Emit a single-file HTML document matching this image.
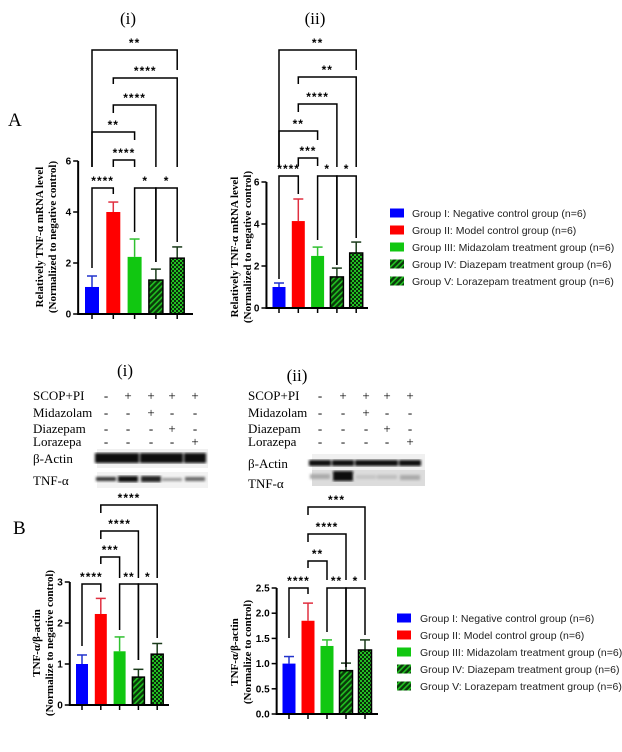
<!DOCTYPE html>
<html><head><meta charset="utf-8">
<style>
html,body{margin:0;padding:0;background:#fff;}
body{width:622px;height:752px;position:relative;overflow:hidden;}
svg{position:absolute;left:0;top:0;}
.tm{font-family:"Liberation Serif",serif;}
.ar{font-family:"Liberation Sans",sans-serif;}
</style></head>
<body>
<svg id="fig" width="622" height="752" viewBox="0 0 622 752" xmlns="http://www.w3.org/2000/svg">
<defs>
<pattern id="hatch" patternUnits="userSpaceOnUse" width="4" height="4" patternTransform="rotate(45)">
<rect width="4" height="4" fill="#0a3a0a"/><rect width="1.6" height="4" fill="#22c022"/>
</pattern>
<pattern id="check" patternUnits="userSpaceOnUse" width="4" height="4">
<rect width="4" height="4" fill="#0a2a0a"/><rect width="2" height="2" fill="#22c022"/><rect x="2" y="2" width="2" height="2" fill="#22c022"/>
</pattern>
<filter id="blur1"><feGaussianBlur stdDeviation="1.3"/></filter>
</defs>

<text class="tm" x="128" y="24" font-size="17" text-anchor="middle">(i)</text>
<text class="tm" x="315" y="24" font-size="17" text-anchor="middle">(ii)</text>
<text class="tm" x="8" y="126" font-size="19">A</text>
<text class="tm" x="13" y="534" font-size="19">B</text>
<text class="tm" x="125" y="376" font-size="17" text-anchor="middle">(i)</text>
<text class="tm" x="297" y="381" font-size="17" text-anchor="middle">(ii)</text>

<g id="blots"></g>
<g id="charts"></g>
</svg>

<script>
const categories = ["Group I", "Group II", "Group III", "Group IV", "Group V"];
const legendLabels = ["Group I: Negative control group (n=6)", "Group II: Model control group (n=6)", "Group III: Midazolam treatment group (n=6)", "Group IV: Diazepam treatment group (n=6)", "Group V: Lorazepam treatment group (n=6)"];

const aiValues = [1.06, 4.0, 2.24, 1.33, 2.19];
const aiErrors = [0.43, 0.39, 0.70, 0.43, 0.44];
const aiTicks = [0, 2, 4, 6];

const aiiValues = [1.0, 4.14, 2.48, 1.48, 2.62];
const aiiErrors = [0.19, 1.05, 0.42, 0.42, 0.52];
const aiiTicks = [0, 2, 4, 6];

const biValues = [1.0, 2.22, 1.31, 0.68, 1.24];
const biErrors = [0.22, 0.38, 0.35, 0.19, 0.26];
const biTicks = [0, 1, 2, 3];
const biTickLabels = ["0", "1", "2", "3"];

const biiValues = [1.0, 1.85, 1.35, 0.86, 1.27];
const biiErrors = [0.14, 0.35, 0.12, 0.15, 0.20];
const biiTicks = [0, 0.5, 1.0, 1.5, 2.0, 2.5];
const biiTickLabels = ["0.0", "0.5", "1.0", "1.5", "2.0", "2.5"];

const NS = "http://www.w3.org/2000/svg";
const fills = ["#0000ff", "#ff0000", "#11c711", "url(#hatch)", "url(#check)"];
const errCols = ["#2233cc", "#e03040", "#30c030", "#1a3a1a", "#1a3a1a"];
const legendFills = ["#0000ff", "#ff0000", "#11c711", "url(#hatch)", "url(#hatch)"];

function mk(parent, tag, attrs) {
  const e = document.createElementNS(NS, tag);
  for (const k in attrs) e.setAttribute(k, attrs[k]);
  parent.appendChild(e);
  return e;
}

function drawChart(cfg) {
  const root = document.getElementById("charts");
  const g = mk(root, "g", {});
  
  
  const yScale = v => cfg.y0 - (v - cfg.yMin) / (cfg.yMax - cfg.yMin) * (cfg.y0 - cfg.yTop);
  const xScale = i => cfg.x0 + i * cfg.step;
  cfg.values.forEach((v, i) => {
    const cx = xScale(i), top = yScale(v), et = yScale(v + cfg.errors[i]);
    const eb = mk(g, "line", {x1: cx, x2: cx, y1: top, y2: et, stroke: errCols[i], "stroke-width": 1.5});
    
    
    const cap = mk(g, "line", {x1: cx - 5, x2: cx + 5, y1: et, y2: et, stroke: errCols[i], "stroke-width": 1.5});
    
    
    const r = mk(g, "rect", {x: cx - cfg.bw / 2, y: top, width: cfg.bw, height: cfg.y0 - top, fill: fills[i],
      stroke: i >= 3 ? "#000" : "none", "stroke-width": 1.5});
    
    
  });
  const axX = cfg.x0 - cfg.step * 0.65;
  const ya = mk(g, "line", {x1: axX, x2: axX, y1: cfg.yTop, y2: cfg.y0 + 1, stroke: "#000", "stroke-width": 2});
  
  
  const xa = mk(g, "line", {x1: axX, x2: cfg.xEnd, y1: cfg.y0, y2: cfg.y0, stroke: "#000", "stroke-width": 2});
  
  
  categories.forEach((c, i) => {
    const t = mk(g, "line", {x1: xScale(i), x2: xScale(i), y1: cfg.y0, y2: cfg.y0 + 5, stroke: "#000", "stroke-width": 1.5});
    
    
  });
  cfg.ticks.forEach((tv, k) => {
    const y = yScale(tv);
    const t = mk(g, "line", {x1: axX - 5, x2: axX, y1: y, y2: y, stroke: "#000", "stroke-width": 1.5});
    
    
    const tx = mk(g, "text", {x: axX - 7, y: y + 3.5, "font-size": 10, "font-weight": "bold", "text-anchor": "end", class: "ar"});
    tx.textContent = cfg.tickLabels ? cfg.tickLabels[k] : String(tv);
    
    
  });
  const tt = mk(g, "text", {transform: `translate(${cfg.titleX},${cfg.titleY}) rotate(-90)`, "font-size": 11, "font-weight": "bold", "text-anchor": "middle", class: "tm"});
  
  
  const t1 = mk(tt, "tspan", {x: 0, dy: 0}); t1.textContent = cfg.title1;
  const t2 = mk(tt, "tspan", {x: 0, dy: 13}); t2.textContent = cfg.title2;
  cfg.brackets.forEach(b => {
    const [i, j, y, label, lb, rb] = b;
    const xa1 = xScale(i), xb1 = xScale(j);
    const p = mk(g, "path", {d: `M${xa1},${lb} V${y} H${xb1} V${rb}`, fill: "none", stroke: "#000", "stroke-width": 1.5});
    
    
    const tx = mk(g, "text", {x: (xa1 + xb1) / 2, y: y - 3, "font-size": 12, "font-weight": "bold", "text-anchor": "middle", class: "ar", "letter-spacing": "1"});
    tx.textContent = label;
    
    
  });
  if (cfg.legend) {
    const lg = mk(g, "g", {});
    
    
    legendLabels.forEach((l, i) => {
      const y = cfg.legend.y + i * cfg.legend.dy;
      const r = mk(lg, "rect", {x: cfg.legend.x, y: y - 4.5, width: 14, height: 9, fill: legendFills[i]});
      
      
      const tx = mk(lg, "text", {x: cfg.legend.x + cfg.legend.tx, y: y + 4, "font-size": 10.5, fill: "#222", class: "ar"});
      tx.textContent = l;
      
      
    });
  }
}

drawChart({name: "chart-a-i", values: aiValues, errors: aiErrors, ticks: aiTicks, yMin: 0, yMax: 6, y0: 314, yTop: 161,
  x0: 92, step: 21.3, bw: 14, xEnd: 193, titleX: 43, titleY: 237,
  title1: "Relatively TNF-α mRNA level", title2: "(Normalized to negative control)",
  brackets: [[0,4,50,"**",167,70],[1,4,78,"****",84,167],[1,3,105,"****",113,167],[0,2,132,"**",167,140],
             [1,2,160,"****",167,167],[0,1,188,"****",268,194],[2,3,188,"*",232,262],[3,4,188,"*",262,242]]});

drawChart({name: "chart-a-ii", values: aiiValues, errors: aiiErrors, ticks: aiiTicks, yMin: 0, yMax: 6, y0: 308, yTop: 182,
  x0: 279, step: 19.3, bw: 13, xEnd: 368, titleX: 238, titleY: 247,
  title1: "Relatively TNF-α mRNA level", title2: "(Normalized to negative control)",
  brackets: [[0,4,50,"**",167,70],[1,4,77,"**",84,167],[1,3,104,"****",112,167],[0,2,131,"**",167,140],
             [1,2,158,"***",166,166],[0,1,176,"****",279,194],[2,3,176,"*",240,265],[3,4,176,"*",265,238]],
  legend: {x: 390, y: 213, dy: 17, tx: 22}});

drawChart({name: "chart-b-i", values: biValues, errors: biErrors, ticks: biTicks, tickLabels: biTickLabels, yMin: 0, yMax: 3, y0: 705, yTop: 582,
  x0: 82, step: 18.8, bw: 12, xEnd: 169, titleX: 40, titleY: 643,
  title1: "TNF-α/β-actin", title2: "(Normalize to negative control)",
  brackets: [[1,4,505,"****",513,578],[1,3,531,"****",539,578],[1,2,557,"***",564,578],
             [0,1,584,"****",646,592],[2,3,584,"**",630,660],[3,4,584,"*",660,638]]});

drawChart({name: "chart-b-ii", values: biiValues, errors: biiErrors, ticks: biiTicks, tickLabels: biiTickLabels, yMin: 0, yMax: 2.5, y0: 714, yTop: 588,
  x0: 289, step: 19, bw: 13, xEnd: 378, titleX: 238, titleY: 652,
  title1: "TNF-α/β-actin", title2: "(Normalize to control)",
  brackets: [[1,4,507,"***",515,580],[1,3,534,"****",542,580],[1,2,561,"**",568,580],
             [0,1,588,"****",638,594],[2,3,588,"**",632,667],[3,4,588,"*",667,635]],
  legend: {x: 397, y: 618, dy: 17, tx: 23}});

const blots = document.getElementById("blots");
const rowNames = ["SCOP+PI", "Midazolam", "Diazepam", "Lorazepa"];
const rowSigns = [["-","+","+","+","+"],["-","-","+","-","-"],["-","-","-","+","-"],["-","-","-","-","+"]];
const rowY = [400, 417, 433, 446];
function blotPanel(lx, lanes, yoff, actinY, actinBand, tnfY, tnfBands, bx0, bx1, labActY, labTnfY) {
  rowNames.forEach((n, r) => {
    const t = mk(blots, "text", {x: lx, y: rowY[r] + yoff, "font-size": 13, class: "tm"});
    t.textContent = n;
    
    
    rowSigns[r].forEach((s, k) => {
      const st = mk(blots, "text", {x: lanes[k], y: rowY[r] + yoff, "font-size": 13, "text-anchor": "middle", class: "tm"});
      st.textContent = s;
      
      
    });
  });
  const a = mk(blots, "text", {x: lx, y: labActY, "font-size": 13, class: "tm"});
  a.textContent = "β-Actin";
  
  
  const tn = mk(blots, "text", {x: lx, y: labTnfY, "font-size": 13, class: "tm"});
  tn.textContent = "TNF-α";
  
  
  const bg1 = mk(blots, "rect", {x: bx0, y: actinY - 9, width: bx1 - bx0, height: 19, fill: "#f0f0f0"});
  
  
  const gb = mk(blots, "g", {filter: "url(#blur1)"});
  lanes.forEach((x, k) => mk(gb, "rect", {x: x - 11, y: actinY - actinBand / 2, width: 22, height: actinBand, fill: "#111"}));
  const bg2 = mk(blots, "rect", {x: bx0, y: tnfY - 7, width: bx1 - bx0, height: 16, fill: tnfBands.bg});
  
  
  const gt = mk(blots, "g", {filter: "url(#blur1)"});
  lanes.forEach((x, k) => mk(gt, "rect", {x: x - 10, y: tnfY + tnfBands.dy[k], width: 20, height: tnfBands.h[k], fill: tnfBands.c[k]}));
}
blotPanel(33, [106,128,151,172,195], 0, 458, 10, 479, {bg: "#f2f2f2", dy: [-2,-3,-3,-1,-2], h: [4,6,6,3,4], c: ["#333","#111","#222","#999","#666"]}, 97, 208, 463, 485);
blotPanel(248, [320,343,366,387,410], 0, 463, 6, 477, {bg: "#dcdcdc", dy: [-3,-6,-2,-2,-2], h: [5,10,4,4,5], c: ["#aaa","#111","#c4c4c4","#bdbdbd","#aaa"]}, 312, 425, 468, 488);
</script>
</body></html>
